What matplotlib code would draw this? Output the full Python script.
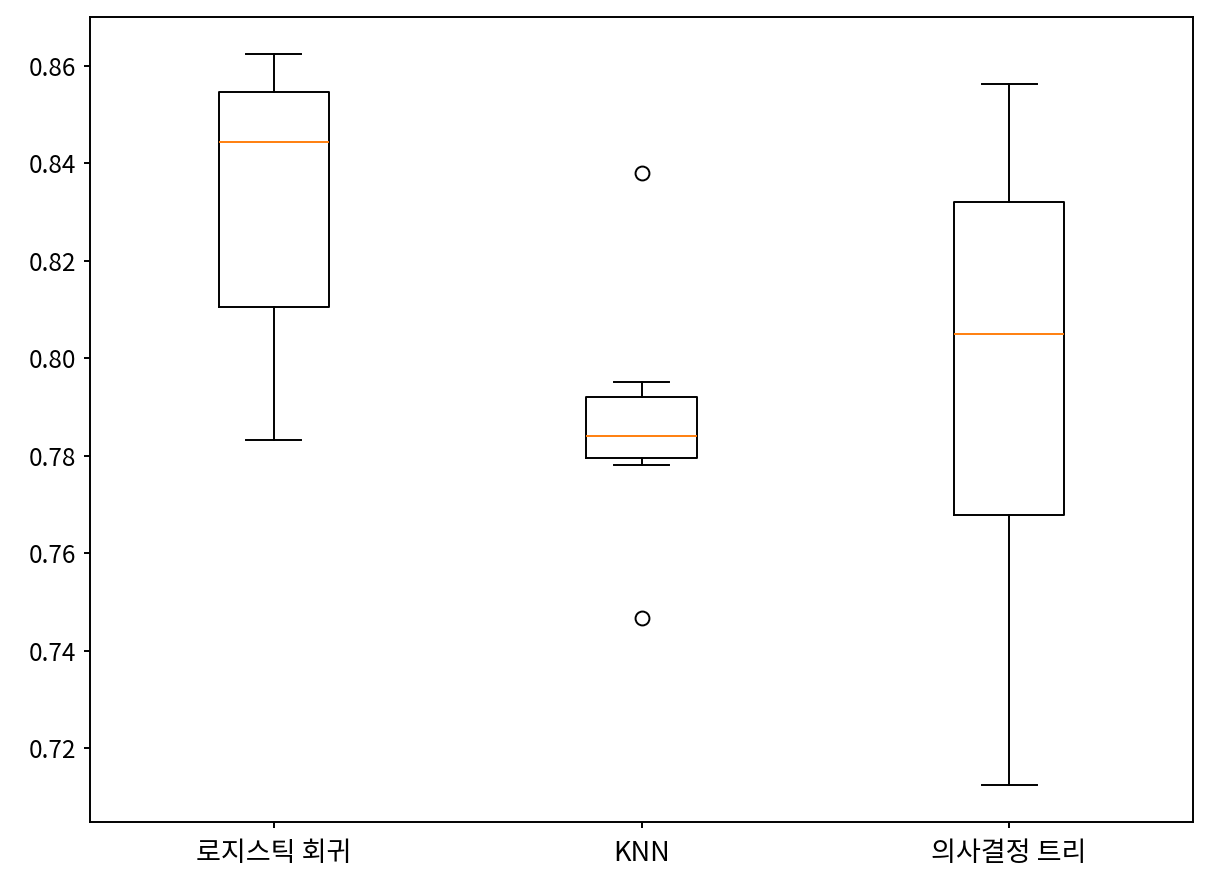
import matplotlib.pyplot as plt

plt.rcParams['font.family'] = ['Noto Sans CJK KR', 'DejaVu Sans']

labels = ['로지스틱 회귀', 'KNN', '의사결정 트리']
logreg = [0.7832, 0.7990, 0.8090, 0.8150, 0.8400, 0.8488, 0.8520, 0.8556, 0.8590, 0.8625]
knn = [0.7468, 0.7781, 0.7790, 0.7814, 0.7830, 0.7852, 0.7900, 0.7927, 0.7951, 0.8381]
tree = [0.7124, 0.7450, 0.7650, 0.7766, 0.8000, 0.8098, 0.8280, 0.8333, 0.8450, 0.8563]

fig = plt.figure(figsize=(12.08, 8.8), dpi=100)
ax = fig.add_axes([90 / 1208, 1 - 822 / 880, 1103 / 1208, 805 / 880])

ax.boxplot([logreg, knn, tree],
           boxprops=dict(linewidth=1.4),
           whiskerprops=dict(linewidth=1.4),
           capprops=dict(linewidth=1.4),
           medianprops=dict(linewidth=1.4, color='#ff7f0e'),
           flierprops=dict(markersize=10, markeredgewidth=1.4))
ax.set_xticks([1, 2, 3])
ax.set_xticklabels(labels, fontsize=19.5)
ax.tick_params(axis='y', labelsize=17.5, pad=6)
ax.tick_params(axis='x', pad=9)
ax.tick_params(length=4, width=1.4)
for s in ax.spines.values():
    s.set_linewidth(1.4)

fig.savefig('out.png', dpi=100)
